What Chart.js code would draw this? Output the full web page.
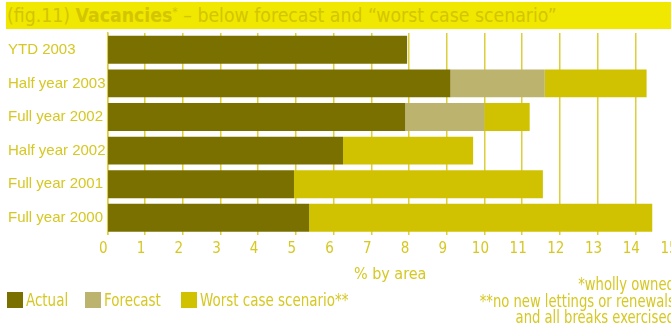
<!DOCTYPE html>
<html>
<head>
<meta charset="utf-8">
<script src="https://cdn.jsdelivr.net/npm/chart.js@4/dist/chart.umd.min.js"></script>
<style>
  html, body { margin: 0; padding: 0; width: 671px; height: 327px; overflow: hidden; background: #fff; }
  body { position: relative; font-family: "DejaVu Sans Condensed", sans-serif; color: #d6c823; }
  #titlebar { position: absolute; left: 6px; top: 2px; width: 680px; height: 27px; background: #f0e800; }
  #title { position: absolute; left: 7px; top: 2px; font-size: 19.3px; line-height: 27px; color: #d3c500; white-space: nowrap; }
  #title b { font-weight: bold; }
  #title sup { font-size: 12px; vertical-align: 6px; line-height: 0; }
  #wrap { position: absolute; left: 0; top: 0; width: 700px; height: 327px; }
  .leg { position: absolute; top: 292px; font-size: 17px; line-height: 16px; white-space: nowrap; transform: scaleX(0.88); transform-origin: left center; }
  .sw { position: absolute; top: 292px; width: 16px; height: 16px; }
  #notes { position: absolute; right: -4px; top: 276px; font-size: 17px; line-height: 16.5px; text-align: right; white-space: nowrap; transform: scaleX(0.86); transform-origin: right center; }
</style>
</head>
<body>
<div id="titlebar"></div>
<div id="title">(fig.11) <b>Vacancies</b><sup>*</sup> – below forecast and “worst case scenario”</div>
<div id="wrap"><canvas id="chart" width="700" height="327"></canvas></div>
<div id="legend"></div>
<div id="notes">*wholly owned<br>**no new lettings or renewals<br>and all breaks exercised</div>
<script>
// categories, top to bottom
const categories = ['YTD 2003', 'Half year 2003', 'Full year 2002', 'Half year 2002', 'Full year 2001', 'Full year 2000'];
// stacked segments (% by area)
const actual = [7.95, 9.1, 7.9, 6.25, 4.95, 5.35];
const forecast = [0, 2.5, 2.1, 0, 0, 0];
const worstCase = [0, 2.7, 1.2, 3.45, 6.6, 9.1];
const xTicks = [0, 1, 2, 3, 4, 5, 6, 7, 8, 9, 10, 11, 12, 13, 14, 15];

const seriesNames = ['Actual', 'Forecast', 'Worst case scenario**'];
const seriesColors = ['#7a7000', '#bcb46e', '#d0c200'];
const textColor = '#d6c823';
const gridColor = '#dccf3a';

// legend (html)
const legend = document.getElementById('legend');
const legendX = [7, 85, 181];
seriesNames.forEach((name, i) => {
    const sw = document.createElement('div');
    sw.className = 'sw';
    sw.style.left = legendX[i] + 'px';
    sw.style.background = seriesColors[i];
    legend.appendChild(sw);
    const t = document.createElement('div');
    t.className = 'leg';
    t.style.left = (legendX[i] + 19) + 'px';
    t.textContent = name;
    legend.appendChild(t);
});

new Chart(document.getElementById('chart'), {
    type: 'bar',
    data: {
        labels: categories,
        datasets: [
            { label: seriesNames[0], data: actual, backgroundColor: seriesColors[0] },
            { label: seriesNames[1], data: forecast, backgroundColor: seriesColors[1] },
            { label: seriesNames[2], data: worstCase, backgroundColor: seriesColors[2] }
        ]
    },
    options: {
        indexAxis: 'y',
        responsive: false,
        animation: false,
        barPercentage: 0.83,
        categoryPercentage: 1,
        layout: { padding: { left: 8, top: 33, right: 27, bottom: 42.4 } },
        plugins: {
            legend: { display: false },
            tooltip: { enabled: false }
        },
        scales: {
            x: {
                stacked: true,
                min: 0,
                max: 15,
                afterBuildTicks: (scale) => { scale.ticks = xTicks.map(v => ({ value: v })); },
                afterFit: (scale) => { scale.height = 50; },
                grid: { color: gridColor, lineWidth: 1.5, drawTicks: false },
                border: { display: false },
                title: {
                    display: true,
                    text: '% by area',
                    color: textColor,
                    padding: 0,
                    font: { family: '"DejaVu Sans Condensed", sans-serif', size: 16 }
                },
                ticks: {
                    color: textColor,
                    padding: 6,
                    labelOffset: -4,
                    maxRotation: 0,
                    autoSkip: false,
                    font: { family: '"DejaVu Sans Condensed", sans-serif', size: 15 }
                }
            },
            y: {
                stacked: true,
                afterFit: (scale) => { scale.width = 99.3; },
                grid: { display: false, drawTicks: false },
                border: { display: true, color: gridColor, width: 1.5 },
                ticks: {
                    color: textColor,
                    crossAlign: 'far',
                    padding: 4,
                    font: { family: '"Liberation Sans", Arial, sans-serif', size: 15 }
                }
            }
        }
    }
});
</script>
</body>
</html>
